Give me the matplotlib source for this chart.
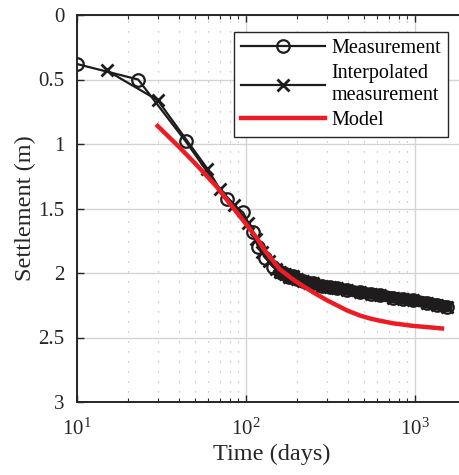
import numpy as np
import matplotlib
matplotlib.use('Agg')
import matplotlib.pyplot as plt
from matplotlib.ticker import LogLocator, FixedLocator, FuncFormatter

plt.rcParams['font.family'] = ['Liberation Serif', 'DejaVu Serif']
plt.rcParams['mathtext.fontset'] = 'custom'
plt.rcParams['mathtext.rm'] = 'Liberation Serif'
plt.rcParams['mathtext.it'] = 'Liberation Serif:italic'

# measured points (circles)
meas_days = [10, 23, 44, 77, 96, 110, 118, 130, 144, 159]
meas_settl = [0.38, 0.50, 0.98, 1.43, 1.53, 1.68, 1.80, 1.88, 1.95, 1.99]

# interpolated measurement (crosses)
interp_days = [15, 30, 59, 70, 85, 103, 114, 124, 137, 151]
interp_settl = [0.43, 0.66, 1.19, 1.35, 1.47, 1.61, 1.74, 1.84, 1.91, 1.97]

# dense daily tail (drawn as a band)
tail_days = [159, 170, 180, 190, 200, 217, 235, 250, 280, 314, 345, 396, 473, 550, 621, 741, 850, 973, 1177, 1350, 1545]
tail_settl = [1.99, 2.01, 2.03, 2.02, 2.05, 2.06, 2.08, 2.08, 2.10, 2.11, 2.12, 2.13, 2.15, 2.16, 2.17, 2.19, 2.20, 2.21, 2.23, 2.245, 2.26]

# model curve
model_days = [30, 40, 50, 67, 80, 100, 116, 130, 158, 190, 217, 250, 300, 345, 396, 473, 550, 621, 741, 850, 973, 1200, 1445]
model_settl = [0.86, 1.02, 1.15, 1.33, 1.46, 1.62, 1.73, 1.83, 1.97, 2.05, 2.10, 2.15, 2.21, 2.25, 2.29, 2.33, 2.355, 2.37, 2.39, 2.40, 2.41, 2.42, 2.43]

dark = '#1e1c1d'
red = '#ed1c24'

fig = plt.figure(figsize=(4.6, 4.75), dpi=100)
ax = fig.add_axes([77 / 460, 73 / 475, 389 / 460, 387 / 475])

ax.plot(tail_days, tail_settl, color=dark, lw=8.5, solid_capstyle='round', zorder=3)
ax.plot(tail_days, tail_settl, ls='none', marker='o', ms=9, mfc='none', mec=dark, mew=1.6, zorder=3)
ax.plot(tail_days, tail_settl, ls='none', marker='x', ms=9, mec=dark, mew=2, zorder=3)

ax.plot(meas_days + tail_days[1:2], meas_settl + tail_settl[1:2], color=dark, lw=1.6, marker='o', ms=9,
        mfc='none', mec=dark, mew=1.6, label='Measurement', zorder=4)
ax.plot(interp_days, interp_settl, color=dark, lw=1.6, marker='x', ms=9, mec=dark, mew=2,
        label='Interpolated\nmeasurement', zorder=4)
ax.plot(model_days, model_settl, color=red, lw=3.2, label='Model', zorder=5)

ax.set_xscale('log')
ax.set_xlim(10, 10 ** 3.302)
ax.set_ylim(3, 0)
ax.set_yticks([0, 0.5, 1, 1.5, 2, 2.5, 3])
ax.yaxis.set_major_formatter(FuncFormatter(lambda v, p: ('%g' % v)))
ax.xaxis.set_major_locator(FixedLocator([10, 100, 1000]))
ax.xaxis.set_minor_locator(LogLocator(base=10, subs=np.arange(2, 10)))
ax.xaxis.set_major_formatter(FuncFormatter(lambda v, p: r'$10^{%d}$' % round(np.log10(v))))

ax.grid(True, which='major', color='#d4d4d4', lw=1.0, zorder=0)
ax.grid(True, which='minor', axis='x', color='#b0b0b0', lw=0.8, ls=(0, (1, 8)), zorder=0)
ax.set_axisbelow(True)

for s in ['left', 'bottom', 'top']:
    ax.spines[s].set_color('#262626')
    ax.spines[s].set_linewidth(1.4)
ax.spines['right'].set_visible(False)

ax.tick_params(which='both', direction='in', top=True, colors='#262626', labelsize=15)
ax.tick_params(which='major', length=5, width=1.0)
ax.tick_params(which='minor', length=3, width=0.8)
ax.tick_params(axis='x', pad=12)
ax.tick_params(axis='y', pad=9)

ax.set_xlabel('Time (days)', fontsize=17.5, color='#262626', labelpad=3)
ax.set_ylabel('Settlement (m)', fontsize=17.5, color='#262626', labelpad=2)

leg = ax.legend(loc='upper right', bbox_to_anchor=(448 / 460, 443 / 475), bbox_transform=fig.transFigure,
                borderaxespad=0, fontsize=14.5, frameon=True, fancybox=False, framealpha=1,
                handlelength=4.2, handletextpad=0.3, labelspacing=0.3, borderpad=0.35)
leg.get_frame().set_edgecolor('#262626')
leg.get_frame().set_linewidth(1.0)

fig.savefig('out.png', dpi=100)
